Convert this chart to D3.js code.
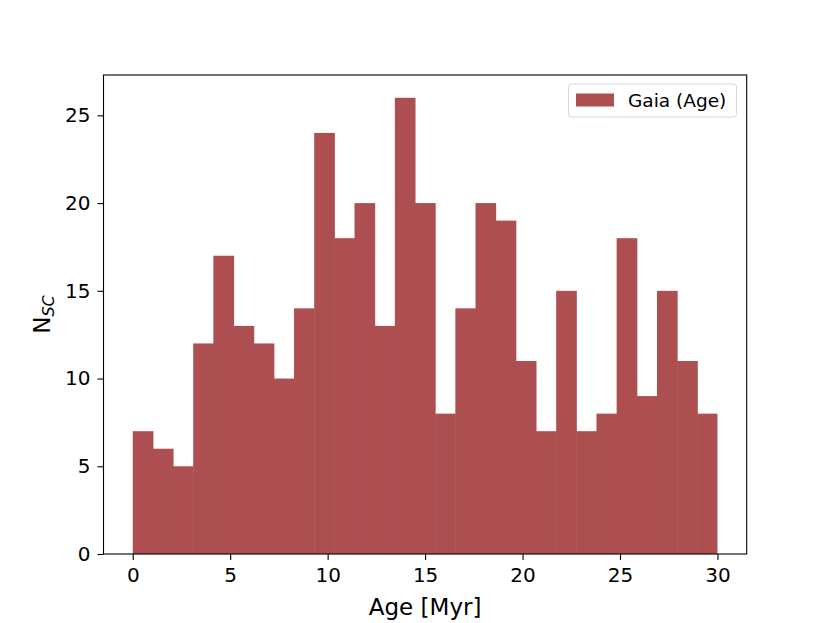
<!DOCTYPE html>
<html>
<head>
<meta charset="utf-8">
<script src="https://cdn.jsdelivr.net/npm/d3@7"></script>
<style>
  html, body { margin: 0; padding: 0; background: #fff; }
  svg { display: block; }
  text { font-family: "DejaVu Sans", sans-serif; fill: #000; }
</style>
</head>
<body>
<svg id="chart" width="830" height="623"></svg>
<script>
// Histogram counts per bin (29 equal bins from 0 to 30 Myr)
const counts = [7, 6, 5, 12, 17, 13, 12, 10, 14, 24, 18, 20, 13, 26, 20, 8, 14, 20, 19, 11, 7, 15, 7, 8, 18, 9, 15, 11, 8];
const ageMin = 0;
const ageMax = 30;
const xTicks = [0, 5, 10, 15, 20, 25, 30];
const yTicks = [0, 5, 10, 15, 20, 25];
const seriesName = "Gaia (Age)";
const xLabel = "Age [Myr]";

const nBins = counts.length;
const binW = (ageMax - ageMin) / nBins;
const bins = counts.map((c, i) => ({ x0: ageMin + i * binW, x1: ageMin + (i + 1) * binW, n: c }));

const margin = { left: 103.5, right: 830 - 746.7, top: 75, bottom: 623 - 554 };
const W = 830, H = 623;
const svg = d3.select("#chart");

const xPad = (ageMax - ageMin) * 0.05;
const x = d3.scaleLinear().domain([ageMin - xPad, ageMax + xPad]).range([margin.left, W - margin.right]);
const yMax = d3.max(counts) * 1.05;
const y = d3.scaleLinear().domain([0, yMax]).range([H - margin.bottom, margin.top]);

const barColor = "#ad4f51";

svg.append("g").selectAll("rect").data(bins).join("rect")
  .attr("x", d => x(d.x0))
  .attr("width", (d, i) => x(d.x1) - x(d.x0) + (i < nBins - 1 ? 0.5 : 0))
  .attr("y", d => y(d.n))
  .attr("height", d => y(0) - y(d.n))
  .attr("fill", barColor);

// frame
svg.append("rect")
  .attr("x", x.range()[0]).attr("y", y.range()[1])
  .attr("width", x.range()[1] - x.range()[0])
  .attr("height", y.range()[0] - y.range()[1])
  .attr("fill", "none").attr("stroke", "#000").attr("stroke-width", 1.1);

const xAxis = svg.append("g")
  .attr("transform", `translate(0,${y(0)})`)
  .call(d3.axisBottom(x).tickValues(xTicks).tickSize(6).tickPadding(8).tickFormat(d3.format("d")));
const yAxis = svg.append("g")
  .attr("transform", `translate(${x.range()[0]},0)`)
  .call(d3.axisLeft(y).tickValues(yTicks).tickSize(6).tickPadding(7).tickFormat(d3.format("d")));
[xAxis, yAxis].forEach(g => {
  g.select(".domain").remove();
  g.selectAll(".tick line").attr("stroke", "#000").attr("stroke-width", 1.1);
  g.selectAll(".tick text").attr("font-size", "20px").attr("font-family", "DejaVu Sans");
});

svg.append("text")
  .attr("x", (x.range()[0] + x.range()[1]) / 2)
  .attr("y", 615)
  .attr("text-anchor", "middle")
  .attr("font-size", "23px")
  .text(xLabel);

const yl = svg.append("text")
  .attr("transform", `translate(50,${(y.range()[0] + y.range()[1]) / 2}) rotate(-90)`)
  .attr("text-anchor", "middle")
  .attr("font-size", "23px");
yl.append("tspan").text("N");
yl.append("tspan").attr("font-size", "16px").attr("dy", 4).attr("font-style", "italic").text("SC");

// legend
const lg = svg.append("g");
lg.append("rect")
  .attr("x", 568.5).attr("y", 84).attr("width", 168).attr("height", 33)
  .attr("rx", 3).attr("fill", "#fff").attr("stroke", "#d9d9d9").attr("stroke-width", 1);
lg.append("rect")
  .attr("x", 576).attr("y", 93.5).attr("width", 38).attr("height", 13)
  .attr("fill", barColor);
lg.append("text")
  .attr("x", 628).attr("y", 106.5)
  .attr("font-size", "18.5px")
  .text(seriesName);
</script>
</body>
</html>
